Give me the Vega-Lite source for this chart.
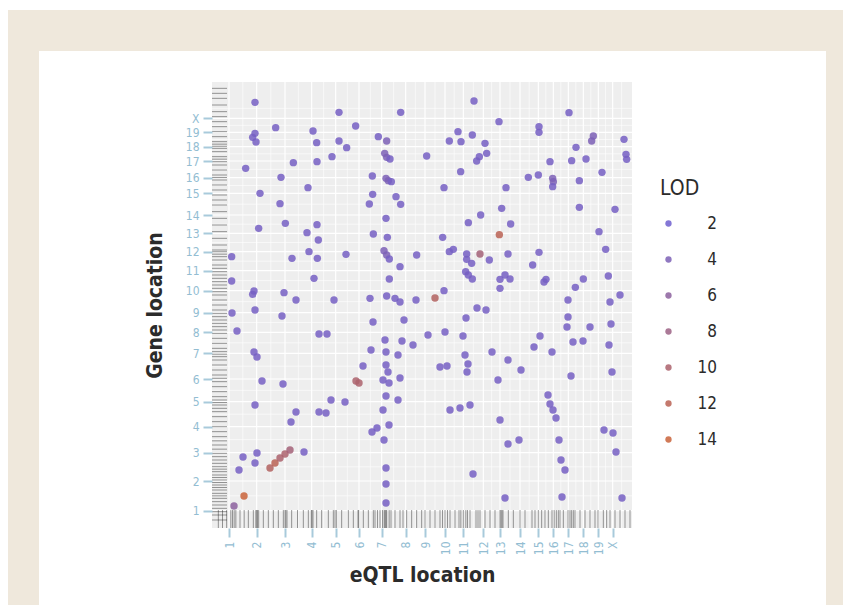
{
  "$schema": "https://vega.github.io/schema/vega-lite/v6.json",
  "width": 420,
  "height": 446,
  "autosize": "none",
  "padding": {"left": 212, "top": 82, "right": 220, "bottom": 77},
  "background": "white",
  "config": {
    "view": {"stroke": null},
    "axis": {"grid": false, "domain": false, "labelOverlap": false, "tickColor": "#a8cadb", "tickWidth": 2, "tickSize": 9, "labelColor": "#93bdd2", "labelFontSize": 12, "labelFont": "Liberation Sans Narrow, DejaVu Sans Condensed, sans-serif", "titleFont": "DejaVu Sans Condensed, sans-serif", "titleFontSize": 21, "titleFontWeight": "bold", "titleColor": "#2b2b2b"}
  },
  "datasets": {
    "points": [
      {"eqtl":240,"gene":2536,"lod":3},{"eqtl":744,"gene":2476,"lod":3},{"eqtl":1114,"gene":2476,"lod":3},{"eqtl":364,"gene":2384,"lod":3},{"eqtl":588,"gene":2364,"lod":3},{"eqtl":844,"gene":2394,"lod":3},{"eqtl":980,"gene":2330,"lod":3},{"eqtl":1030,"gene":2304,"lod":4},{"eqtl":240,"gene":2350,"lod":3},{"eqtl":226,"gene":2326,"lod":3},{"eqtl":246,"gene":2298,"lod":3},{"eqtl":610,"gene":2294,"lod":3},{"eqtl":744,"gene":2304,"lod":3},{"eqtl":790,"gene":2264,"lod":3},{"eqtl":702,"gene":2210,"lod":3},{"eqtl":1018,"gene":2230,"lod":4},{"eqtl":1030,"gene":2206,"lod":4},{"eqtl":1050,"gene":2196,"lod":3},{"eqtl":1270,"gene":2214,"lod":3},{"eqtl":184,"gene":2140,"lod":3},{"eqtl":470,"gene":2174,"lod":3},{"eqtl":612,"gene":2180,"lod":3},{"eqtl":396,"gene":2086,"lod":3},{"eqtl":944,"gene":2094,"lod":3},{"eqtl":1026,"gene":2080,"lod":4},{"eqtl":1040,"gene":2066,"lod":4},{"eqtl":1058,"gene":2060,"lod":3},{"eqtl":558,"gene":2024,"lod":3},{"eqtl":270,"gene":1990,"lod":3},{"eqtl":946,"gene":1984,"lod":3},{"eqtl":1086,"gene":1970,"lod":3},{"eqtl":390,"gene":1928,"lod":3},{"eqtl":926,"gene":1926,"lod":3},{"eqtl":1114,"gene":1924,"lod":3},{"eqtl":1026,"gene":1840,"lod":3},{"eqtl":262,"gene":1780,"lod":3},{"eqtl":422,"gene":1810,"lod":3},{"eqtl":612,"gene":1802,"lod":3},{"eqtl":552,"gene":1754,"lod":3},{"eqtl":620,"gene":1710,"lod":3},{"eqtl":950,"gene":1746,"lod":3},{"eqtl":1034,"gene":1726,"lod":3},{"eqtl":100,"gene":1610,"lod":3},{"eqtl":564,"gene":1640,"lod":3},{"eqtl":462,"gene":1600,"lod":3},{"eqtl":614,"gene":1600,"lod":3},{"eqtl":786,"gene":1624,"lod":3},{"eqtl":1014,"gene":1646,"lod":4},{"eqtl":1030,"gene":1620,"lod":4},{"eqtl":1046,"gene":1596,"lod":3},{"eqtl":1210,"gene":1620,"lod":3},{"eqtl":1110,"gene":1550,"lod":3},{"eqtl":100,"gene":1464,"lod":3},{"eqtl":594,"gene":1480,"lod":3},{"eqtl":1046,"gene":1476,"lod":3},{"eqtl":234,"gene":1404,"lod":3},{"eqtl":226,"gene":1384,"lod":3},{"eqtl":414,"gene":1394,"lod":3},{"eqtl":1030,"gene":1374,"lod":3},{"eqtl":1080,"gene":1360,"lod":3},{"eqtl":930,"gene":1360,"lod":3},
      {"eqtl":1554,"gene":2544,"lod":3},{"eqtl":2124,"gene":2474,"lod":3},{"eqtl":1704,"gene":2420,"lod":3},{"eqtl":1944,"gene":2390,"lod":3},{"eqtl":1944,"gene":2356,"lod":3},{"eqtl":1458,"gene":2360,"lod":3},{"eqtl":1544,"gene":2340,"lod":3},{"eqtl":1406,"gene":2304,"lod":3},{"eqtl":1476,"gene":2300,"lod":3},{"eqtl":1620,"gene":2290,"lod":3},{"eqtl":2270,"gene":2334,"lod":4},{"eqtl":2260,"gene":2304,"lod":4},{"eqtl":2454,"gene":2314,"lod":3},{"eqtl":2166,"gene":2266,"lod":3},{"eqtl":1630,"gene":2230,"lod":3},{"eqtl":1586,"gene":2210,"lod":3},{"eqtl":1570,"gene":2184,"lod":3},{"eqtl":2010,"gene":2180,"lod":3},{"eqtl":2140,"gene":2186,"lod":3},{"eqtl":2226,"gene":2196,"lod":3},{"eqtl":2466,"gene":2224,"lod":3},{"eqtl":2470,"gene":2194,"lod":3},{"eqtl":1474,"gene":2120,"lod":3},{"eqtl":1880,"gene":2086,"lod":3},{"eqtl":1940,"gene":2100,"lod":3},{"eqtl":2026,"gene":2080,"lod":4},{"eqtl":2030,"gene":2060,"lod":4},{"eqtl":2026,"gene":2030,"lod":3},{"eqtl":2186,"gene":2066,"lod":3},{"eqtl":2322,"gene":2116,"lod":3},{"eqtl":1374,"gene":2024,"lod":3},{"eqtl":1746,"gene":2024,"lod":3},{"eqtl":1720,"gene":1900,"lod":3},{"eqtl":2186,"gene":1906,"lod":3},{"eqtl":2400,"gene":1894,"lod":3},{"eqtl":1594,"gene":1860,"lod":3},{"eqtl":1520,"gene":1814,"lod":3},{"eqtl":1774,"gene":1806,"lod":3},{"eqtl":1706,"gene":1742,"lod":12},{"eqtl":1366,"gene":1726,"lod":3},{"eqtl":2304,"gene":1760,"lod":3},{"eqtl":1406,"gene":1640,"lod":3},{"eqtl":1430,"gene":1654,"lod":3},{"eqtl":1510,"gene":1626,"lod":3},{"eqtl":1510,"gene":1594,"lod":3},{"eqtl":1590,"gene":1626,"lod":9},{"eqtl":1646,"gene":1590,"lod":3},{"eqtl":1758,"gene":1626,"lod":3},{"eqtl":1944,"gene":1636,"lod":3},{"eqtl":2344,"gene":1654,"lod":3},{"eqtl":1540,"gene":1570,"lod":3},{"eqtl":1906,"gene":1560,"lod":3},{"eqtl":1504,"gene":1520,"lod":3},{"eqtl":1520,"gene":1500,"lod":3},{"eqtl":1544,"gene":1476,"lod":3},{"eqtl":1710,"gene":1474,"lod":3},{"eqtl":1740,"gene":1500,"lod":3},{"eqtl":1770,"gene":1476,"lod":3},{"eqtl":1710,"gene":1420,"lod":3},{"eqtl":1986,"gene":1474,"lod":3},{"eqtl":1974,"gene":1458,"lod":3},{"eqtl":2210,"gene":1476,"lod":3},{"eqtl":2162,"gene":1426,"lod":3},{"eqtl":2360,"gene":1494,"lod":3},{"eqtl":1374,"gene":1406,"lod":3},{"eqtl":2430,"gene":1380,"lod":3},{"eqtl":1320,"gene":1362,"lod":11},
      {"eqtl":102,"gene":1272,"lod":3},{"eqtl":132,"gene":1164,"lod":3},{"eqtl":240,"gene":1290,"lod":3},{"eqtl":234,"gene":1038,"lod":3},{"eqtl":252,"gene":1008,"lod":3},{"eqtl":240,"gene":720,"lod":3},{"eqtl":168,"gene":408,"lod":3},{"eqtl":144,"gene":330,"lod":3},{"eqtl":240,"gene":372,"lod":3},{"eqtl":252,"gene":432,"lod":3},{"eqtl":174,"gene":174,"lod":14},{"eqtl":114,"gene":114,"lod":6},
      {"eqtl":330,"gene":342,"lod":11},{"eqtl":360,"gene":372,"lod":12},{"eqtl":390,"gene":402,"lod":10},{"eqtl":420,"gene":426,"lod":10},{"eqtl":450,"gene":450,"lod":9},{"eqtl":846,"gene":864,"lod":10},{"eqtl":864,"gene":852,"lod":10},
      {"eqtl":402,"gene":1254,"lod":3},{"eqtl":486,"gene":1350,"lod":3},{"eqtl":624,"gene":1146,"lod":3},{"eqtl":672,"gene":1146,"lod":3},{"eqtl":408,"gene":846,"lod":3},{"eqtl":282,"gene":864,"lod":3},{"eqtl":534,"gene":438,"lod":3},{"eqtl":456,"gene":618,"lod":3},{"eqtl":486,"gene":678,"lod":3},{"eqtl":624,"gene":678,"lod":3},{"eqtl":666,"gene":672,"lod":3},{"eqtl":696,"gene":750,"lod":3},{"eqtl":780,"gene":738,"lod":3},{"eqtl":888,"gene":954,"lod":3},{"eqtl":948,"gene":1218,"lod":3},{"eqtl":936,"gene":1050,"lod":3},{"eqtl":1020,"gene":1110,"lod":3},{"eqtl":1026,"gene":1038,"lod":3},{"eqtl":1026,"gene":960,"lod":3},{"eqtl":1038,"gene":918,"lod":3},{"eqtl":1008,"gene":870,"lod":3},{"eqtl":1044,"gene":852,"lod":3},{"eqtl":1026,"gene":774,"lod":3},{"eqtl":1008,"gene":690,"lod":3},{"eqtl":1044,"gene":600,"lod":3},{"eqtl":1014,"gene":510,"lod":3},{"eqtl":942,"gene":558,"lod":3},{"eqtl":972,"gene":582,"lod":3},{"eqtl":1026,"gene":342,"lod":3},{"eqtl":1026,"gene":246,"lod":3},{"eqtl":1026,"gene":132,"lod":3},{"eqtl":1110,"gene":1338,"lod":3},{"eqtl":1134,"gene":1230,"lod":3},{"eqtl":1122,"gene":1104,"lod":3},{"eqtl":1098,"gene":1020,"lod":3},{"eqtl":1110,"gene":882,"lod":3},{"eqtl":1098,"gene":750,"lod":3},{"eqtl":1188,"gene":1080,"lod":3},{"eqtl":1278,"gene":1140,"lod":3},{"eqtl":1350,"gene":948,"lod":3},{"eqtl":1380,"gene":1158,"lod":3},{"eqtl":1392,"gene":954,"lod":3},{"eqtl":1410,"gene":690,"lod":3},{"eqtl":1470,"gene":702,"lod":3},{"eqtl":1506,"gene":1242,"lod":3},{"eqtl":1488,"gene":1134,"lod":3},{"eqtl":1500,"gene":1020,"lod":3},{"eqtl":1518,"gene":966,"lod":3},{"eqtl":1512,"gene":918,"lod":3},{"eqtl":1530,"gene":720,"lod":3},{"eqtl":1548,"gene":306,"lod":3},{"eqtl":1572,"gene":1302,"lod":3},{"eqtl":1626,"gene":1290,"lod":3},{"eqtl":1662,"gene":1038,"lod":3},{"eqtl":1698,"gene":870,"lod":3},{"eqtl":1710,"gene":630,"lod":3},{"eqtl":1740,"gene":162,"lod":3},{"eqtl":1758,"gene":990,"lod":3},{"eqtl":1758,"gene":486,"lod":3},{"eqtl":1824,"gene":510,"lod":3},{"eqtl":1836,"gene":930,"lod":3},{"eqtl":1914,"gene":1068,"lod":3},{"eqtl":1950,"gene":1134,"lod":3},{"eqtl":1998,"gene":780,"lod":3},{"eqtl":2010,"gene":726,"lod":3},{"eqtl":2028,"gene":690,"lod":3},{"eqtl":2046,"gene":642,"lod":3},{"eqtl":2064,"gene":510,"lod":3},{"eqtl":2076,"gene":390,"lod":3},{"eqtl":2100,"gene":330,"lod":3},{"eqtl":2082,"gene":168,"lod":3},{"eqtl":2022,"gene":1038,"lod":3},{"eqtl":2112,"gene":1188,"lod":3},{"eqtl":2118,"gene":1248,"lod":3},{"eqtl":2118,"gene":1350,"lod":3},{"eqtl":2136,"gene":894,"lod":3},{"eqtl":2148,"gene":1098,"lod":3},{"eqtl":2208,"gene":1104,"lod":3},{"eqtl":2250,"gene":1188,"lod":3},{"eqtl":2370,"gene":1338,"lod":3},{"eqtl":2376,"gene":1206,"lod":3},{"eqtl":2364,"gene":1080,"lod":3},{"eqtl":2382,"gene":918,"lod":3},{"eqtl":2334,"gene":570,"lod":3},{"eqtl":2388,"gene":552,"lod":3},{"eqtl":2406,"gene":438,"lod":3},{"eqtl":2442,"gene":162,"lod":3},{"eqtl":1206,"gene":1350,"lod":3},{"eqtl":714,"gene":1350,"lod":3}
    ],
    "xrug": [{"pos":20},{"pos":45},{"pos":70},{"pos":95},{"pos":105},{"pos":115},{"pos":125},{"pos":150},{"pos":175},{"pos":200},{"pos":230},{"pos":245},{"pos":250},{"pos":255},{"pos":262},{"pos":290},{"pos":320},{"pos":350},{"pos":380},{"pos":410},{"pos":420},{"pos":425},{"pos":432},{"pos":460},{"pos":495},{"pos":530},{"pos":560},{"pos":578},{"pos":582},{"pos":588},{"pos":610},{"pos":640},{"pos":680},{"pos":710},{"pos":720},{"pos":728},{"pos":760},{"pos":800},{"pos":830},{"pos":858},{"pos":862},{"pos":890},{"pos":920},{"pos":950},{"pos":960},{"pos":975},{"pos":990},{"pos":1005},{"pos":1015},{"pos":1020},{"pos":1025},{"pos":1030},{"pos":1045},{"pos":1056},{"pos":1080},{"pos":1110},{"pos":1128},{"pos":1150},{"pos":1180},{"pos":1210},{"pos":1240},{"pos":1260},{"pos":1290},{"pos":1320},{"pos":1350},{"pos":1365},{"pos":1380},{"pos":1395},{"pos":1410},{"pos":1440},{"pos":1464},{"pos":1475},{"pos":1490},{"pos":1505},{"pos":1515},{"pos":1530},{"pos":1566},{"pos":1578},{"pos":1590},{"pos":1620},{"pos":1650},{"pos":1680},{"pos":1710},{"pos":1716},{"pos":1722},{"pos":1728},{"pos":1760},{"pos":1790},{"pos":1830},{"pos":1860},{"pos":1902},{"pos":1920},{"pos":1940},{"pos":1960},{"pos":1980},{"pos":2000},{"pos":2022},{"pos":2035},{"pos":2048},{"pos":2060},{"pos":2070},{"pos":2090},{"pos":2118},{"pos":2130},{"pos":2140},{"pos":2150},{"pos":2160},{"pos":2190},{"pos":2220},{"pos":2250},{"pos":2280},{"pos":2298},{"pos":2330},{"pos":2350},{"pos":2370},{"pos":2400},{"pos":2430},{"pos":2460},{"pos":2490}],
    "yrug": [{"pos":30},{"pos":60},{"pos":80},{"pos":100},{"pos":120},{"pos":140},{"pos":160},{"pos":175},{"pos":190},{"pos":210},{"pos":225},{"pos":240},{"pos":255},{"pos":270},{"pos":285},{"pos":300},{"pos":320},{"pos":335},{"pos":350},{"pos":370},{"pos":390},{"pos":410},{"pos":430},{"pos":455},{"pos":480},{"pos":505},{"pos":530},{"pos":560},{"pos":590},{"pos":620},{"pos":650},{"pos":680},{"pos":700},{"pos":720},{"pos":735},{"pos":750},{"pos":770},{"pos":800},{"pos":830},{"pos":860},{"pos":880},{"pos":900},{"pos":930},{"pos":960},{"pos":990},{"pos":1010},{"pos":1025},{"pos":1040},{"pos":1060},{"pos":1090},{"pos":1120},{"pos":1150},{"pos":1170},{"pos":1190},{"pos":1210},{"pos":1230},{"pos":1250},{"pos":1270},{"pos":1290},{"pos":1320},{"pos":1350},{"pos":1380},{"pos":1400},{"pos":1420},{"pos":1440},{"pos":1460},{"pos":1480},{"pos":1500},{"pos":1520},{"pos":1540},{"pos":1560},{"pos":1590},{"pos":1610},{"pos":1625},{"pos":1640},{"pos":1650},{"pos":1680},{"pos":1720},{"pos":1760},{"pos":1800},{"pos":1840},{"pos":1880},{"pos":1920},{"pos":1950},{"pos":1980},{"pos":2010},{"pos":2040},{"pos":2070},{"pos":2085},{"pos":2100},{"pos":2130},{"pos":2160},{"pos":2180},{"pos":2195},{"pos":2210},{"pos":2240},{"pos":2260},{"pos":2272},{"pos":2285},{"pos":2300},{"pos":2330},{"pos":2360},{"pos":2390},{"pos":2420},{"pos":2450},{"pos":2480},{"pos":2520},{"pos":2560},{"pos":2590},{"pos":2620}],
    "xgrid": [{"pos":84,"w":1.2},{"pos":250,"w":1.2},{"pos":420,"w":1.2},{"pos":580,"w":1.2},{"pos":724,"w":1.2},{"pos":864,"w":1.2},{"pos":1000,"w":1.2},{"pos":1144,"w":1.2},{"pos":1260,"w":1.2},{"pos":1380,"w":1.2},{"pos":1490,"w":1.2},{"pos":1610,"w":1.2},{"pos":1710,"w":1.2},{"pos":1830,"w":1.2},{"pos":1940,"w":1.2},{"pos":2030,"w":1.2},{"pos":2120,"w":1.2},{"pos":2210,"w":1.2},{"pos":2300,"w":1.2},{"pos":2386,"w":1.2},{"pos":167,"w":0.6},{"pos":335,"w":0.6},{"pos":500,"w":0.6},{"pos":652,"w":0.6},{"pos":794,"w":0.6},{"pos":932,"w":0.6},{"pos":1072,"w":0.6},{"pos":1202,"w":0.6},{"pos":1320,"w":0.6},{"pos":1435,"w":0.6},{"pos":1550,"w":0.6},{"pos":1660,"w":0.6},{"pos":1770,"w":0.6},{"pos":1885,"w":0.6},{"pos":1985,"w":0.6},{"pos":2075,"w":0.6},{"pos":2165,"w":0.6},{"pos":2255,"w":0.6},{"pos":2343,"w":0.6},{"pos":2440,"w":0.6}],
    "ygrid": [{"pos":86,"w":1.2},{"pos":264,"w":1.2},{"pos":434,"w":1.2},{"pos":590,"w":1.2},{"pos":740,"w":1.2},{"pos":876,"w":1.2},{"pos":1030,"w":1.2},{"pos":1156,"w":1.2},{"pos":1274,"w":1.2},{"pos":1406,"w":1.2},{"pos":1526,"w":1.2},{"pos":1640,"w":1.2},{"pos":1750,"w":1.2},{"pos":1860,"w":1.2},{"pos":1990,"w":1.2},{"pos":2084,"w":1.2},{"pos":2184,"w":1.2},{"pos":2270,"w":1.2},{"pos":2356,"w":1.2},{"pos":2440,"w":1.2},{"pos":175,"w":0.6},{"pos":349,"w":0.6},{"pos":512,"w":0.6},{"pos":665,"w":0.6},{"pos":808,"w":0.6},{"pos":953,"w":0.6},{"pos":1093,"w":0.6},{"pos":1215,"w":0.6},{"pos":1340,"w":0.6},{"pos":1466,"w":0.6},{"pos":1583,"w":0.6},{"pos":1695,"w":0.6},{"pos":1805,"w":0.6},{"pos":1925,"w":0.6},{"pos":2037,"w":0.6},{"pos":2134,"w":0.6},{"pos":2227,"w":0.6},{"pos":2313,"w":0.6},{"pos":2398,"w":0.6},{"pos":2500,"w":0.6}]
  },
  "layer": [
    {
      "data": {"values": [{}]},
      "mark": {"type": "rect", "color": "#efe8dc"},
      "encoding": {
        "x": {"datum": -1242, "type": "quantitative", "scale": {"domain": [-18, 2502], "nice": false, "zero": false}},
        "x2": {"datum": 3768},
        "y": {"datum": 3090, "type": "quantitative", "scale": {"domain": [-18, 2658], "nice": false, "zero": false}},
        "y2": {"datum": 2844}
      }
    },
    {
      "data": {"values": [{}]},
      "mark": {"type": "rect", "color": "#efe8dc"},
      "encoding": {
        "x": {"datum": -1242, "type": "quantitative"},
        "x2": {"datum": -1056},
        "y": {"datum": 2844, "type": "quantitative"},
        "y2": {"datum": -600}
      }
    },
    {
      "data": {"values": [{}]},
      "mark": {"type": "rect", "color": "#efe8dc"},
      "encoding": {
        "x": {"datum": 3666, "type": "quantitative"},
        "x2": {"datum": 3768},
        "y": {"datum": 2844, "type": "quantitative"},
        "y2": {"datum": -600}
      }
    },
    {
      "data": {"values": [{}]},
      "mark": {"type": "rect", "color": "#eeeeee"},
      "encoding": {
        "x": {"datum": -18, "type": "quantitative"},
        "x2": {"datum": 2502},
        "y": {"datum": 2658, "type": "quantitative"},
        "y2": {"datum": -18}
      }
    },
    {
      "data": {"name": "xgrid"},
      "mark": {"type": "rule", "color": "#ffffff"},
      "encoding": {
        "x": {"field": "pos", "type": "quantitative"},
        "y": {"datum": -18, "type": "quantitative"},
        "y2": {"datum": 2658},
        "strokeWidth": {"field": "w", "type": "quantitative", "scale": null}
      }
    },
    {
      "data": {"name": "ygrid"},
      "mark": {"type": "rule", "color": "#ffffff"},
      "encoding": {
        "y": {"field": "pos", "type": "quantitative"},
        "x": {"datum": -18, "type": "quantitative"},
        "x2": {"datum": 2502},
        "strokeWidth": {"field": "w", "type": "quantitative", "scale": null}
      }
    },
    {
      "data": {"name": "xrug"},
      "mark": {"type": "rule", "color": "#222222", "opacity": 0.45, "strokeWidth": 1},
      "encoding": {
        "x": {"field": "pos", "type": "quantitative"},
        "y": {"datum": -18, "type": "quantitative"},
        "y2": {"datum": 90}
      }
    },
    {
      "data": {"name": "yrug"},
      "mark": {"type": "rule", "color": "#222222", "opacity": 0.45, "strokeWidth": 1},
      "encoding": {
        "y": {"field": "pos", "type": "quantitative"},
        "x": {"datum": -18, "type": "quantitative"},
        "x2": {"datum": 72}
      }
    },
    {
      "data": {"name": "points"},
      "mark": {"type": "circle", "size": 55, "opacity": 0.85},
      "encoding": {
        "x": {"field": "eqtl", "type": "quantitative", "scale": {"domain": [-18, 2502], "nice": false, "zero": false},
          "axis": {"title": "eQTL location", "zindex": 1, "tickCount": 40, "labelOverlap": false, "values": [84,250,420,580,724,864,1000,1144,1260,1380,1490,1610,1710,1830,1940,2030,2120,2210,2300,2386],
            "labelExpr": "['1','2','3','4','5','6','7','8','9','10','11','12','13','14','15','16','17','18','19','X'][indexof([84,250,420,580,724,864,1000,1144,1260,1380,1490,1610,1710,1830,1940,2030,2120,2210,2300,2386], datum.value)]",
            "labelAngle": -90, "labelPadding": 4, "titlePadding": 10}},
        "y": {"field": "gene", "type": "quantitative", "scale": {"domain": [-18, 2658], "nice": false, "zero": false},
          "axis": {"title": "Gene location", "zindex": 1, "tickCount": 40, "labelOverlap": false, "values": [86,264,434,590,740,876,1030,1156,1274,1406,1526,1640,1750,1860,1990,2084,2184,2270,2356,2440],
            "labelExpr": "['1','2','3','4','5','6','7','8','9','10','11','12','13','14','15','16','17','18','19','X'][indexof([86,264,434,590,740,876,1030,1156,1274,1406,1526,1640,1750,1860,1990,2084,2184,2270,2356,2440], datum.value)]",
            "labelPadding": 4, "titlePadding": 20}},
        "color": {"field": "lod", "type": "quantitative", "scale": {"domain": [2, 14], "range": ["#6e5fcf", "#c9633a"], "interpolate": "rgb"},
          "legend": {"type": "symbol", "values": [2,4,6,8,10,12,14], "orient": "none", "legendX": 448, "legendY": 96, "title": "LOD", "titleFont": "DejaVu Sans Condensed, sans-serif", "titleFontSize": 21, "titleFontWeight": "normal", "titleColor": "#2b2b2b", "titlePadding": 16, "labelFont": "DejaVu Sans Condensed, sans-serif", "labelFontSize": 17, "labelColor": "#2b2b2b", "symbolType": "circle", "symbolSize": 40, "symbolOpacity": 0.85, "symbolStrokeWidth": 0, "labelAlign": "right", "labelOffset": 40, "rowPadding": 18, "zindex": 1}}
      }
    }
  ]
}
